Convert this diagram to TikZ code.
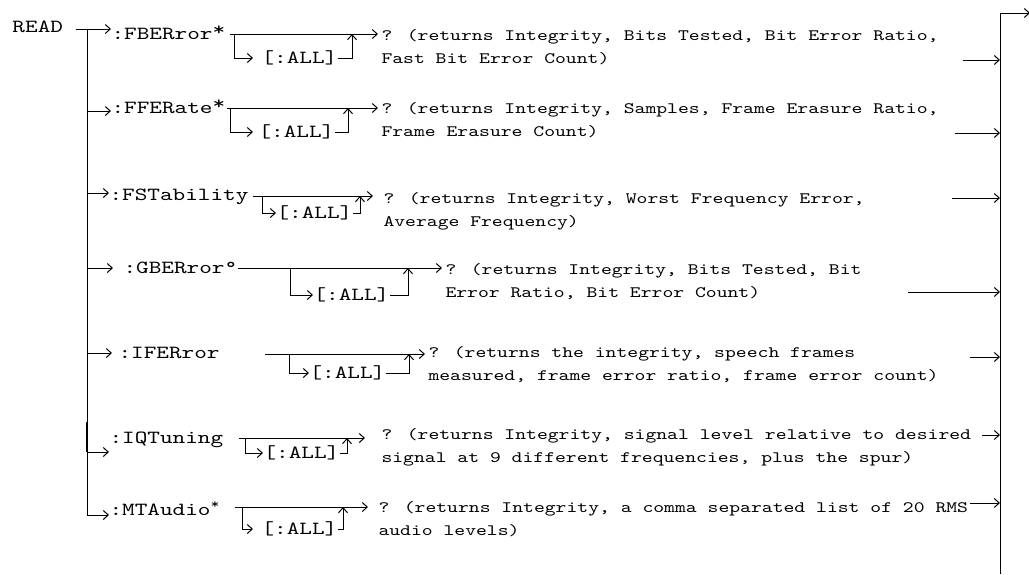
\documentclass[tikz,border=0pt]{standalone}
\usepackage{fontspec}
\newfontfamily\courfont{lmmono10-regular}[Extension=.otf, FakeStretch=1.3]
\usetikzlibrary{arrows.meta}
\newcommand{\hstar}{\raisebox{3.5pt}{*}}

\begin{document}
\begin{tikzpicture}[x=1pt, y=-1pt, line width=1pt,
  cmd/.style={font=\courfont\fontsize{18.5}{22}\selectfont, inner sep=0pt, anchor=base west},
  opt/.style={font=\courfont\fontsize{18.5}{22}\selectfont, inner sep=0pt, anchor=west},
  ret/.style={font=\courfont\fontsize{15.9}{23}\selectfont, align=left, inner xsep=3pt, inner ysep=0pt, anchor=base west},
  arr/.style={-{Straight Barb[length=5pt, width=9pt]}}]

  \useasboundingbox (0,0) rectangle (1029,574);

  % Trunk and bus
  \node[cmd] (read) at (12,32) {READ};
  \coordinate (t1) at (87,29);
  \coordinate (t2) at (87,111);
  \coordinate (t3) at (87,193);
  \coordinate (t4) at (87,268);
  \coordinate (t5) at (87,353);
  \coordinate (t6) at (87,452);
  \coordinate (t7) at (87,515);
  \coordinate (bustop) at (1000,13);
  \coordinate (busbot) at (1000,574);
  \coordinate (busout) at (1030,13);
  \draw (t1) -- (t7);
  \draw[line width=2pt] (87,422) -- (t6);
  \draw[arr] (busbot) -- (bustop) -- (busout);

  % :FBERror*
  \node[cmd] (c1) at (111,39) {:FBERror\hstar};
  \node[opt] (o1) at (261,58) {[:ALL]};
  \node[ret] (r1) at (378,63) {? (returns Integrity, Bits Tested, Bit Error Ratio,\\Fast Bit Error Count)};
  \coordinate (m1) at (230,34);
  \coordinate (b1) at (234,34);
  \coordinate (u1) at (352,34);
  \coordinate (s1) at (963,60);
  \draw[arr, shorten <=12pt] (read.east |- t1) -- (t1 -| c1.west);
  \draw[arr] (m1) -- (m1 -| r1.west);
  \draw[arr, shorten >=8pt] (b1) |- (o1.west);
  \draw[arr] (o1.east) -| (u1);
  \draw[arr] (s1) -- (s1 -| bustop);

  % :FFERate*
  \node[cmd] (c2) at (111,113) {:FFERate\hstar};
  \node[opt] (o2) at (258,132) {[:ALL]};
  \node[ret] (r2) at (378,136) {? (returns Integrity, Samples, Frame Erasure Ratio,\\Frame Erasure Count)};
  \coordinate (m2) at (227,108);
  \coordinate (b2) at (230,108);
  \coordinate (u2) at (348,108);
  \coordinate (s2) at (955,133);
  \draw[arr] (t2) -- (t2 -| c2.west);
  \draw[arr] (m2) -- (m2 -| r2.west);
  \draw[arr, shorten >=5pt] (b2) |- (o2.west);
  \draw[arr] (o2.east) -| (u2);
  \draw[arr] (s2) -- (s2 -| bustop);

  % :FSTability
  \node[cmd] (c3) at (109,200) {:FSTability};
  \node[opt] (o3) at (276,213) {[:ALL]};
  \node[ret] (r3) at (380,226) {? (returns Integrity, Worst Frequency Error,\\Average Frequency)};
  \coordinate (m3) at (253,196);
  \coordinate (b3) at (262,196);
  \coordinate (u3) at (360,196);
  \coordinate (s3) at (952,198);
  \draw[arr] (t3) -- (t3 -| c3.west);
  \draw[arr, shorten >=7pt] (m3) -- (m3 -| r3.west);
  \draw[arr] (b3) |- (o3.west);
  \draw[arr] (o3.east) -| (u3);
  \draw[arr] (s3) -- (s3 -| bustop);

  % :GBERror
  \node[cmd] (c4) at (123,273) {:GBERror°};
  \node[opt] (o4) at (313,295) {[:ALL]};
  \node[ret] (r4) at (442,297) {? (returns Integrity, Bits Tested, Bit\\Error Ratio, Bit Error Count)};
  \coordinate (m4) at (238,268);
  \coordinate (b4) at (290,268);
  \coordinate (u4) at (408,268);
  \coordinate (s4) at (908,292);
  \draw[arr, shorten >=10pt] (t4) -- (t4 -| c4.west);
  \draw[arr] (m4) -- (m4 -| r4.west);
  \draw[arr] (b4) |- (o4.west);
  \draw[arr] (o4.east) -| (u4);
  \draw[arr] (s4) -- (s4 -| bustop);

  % :IFERror
  \node[cmd] (c5) at (118,358) {:IFERror};
  \node[opt] (o5) at (309,373) {[:ALL]};
  \node[ret] (r5) at (425,380) {? (returns the integrity, speech frames\\measured, frame error ratio, frame error count)};
  \coordinate (m5) at (265,354);
  \coordinate (b5) at (289,354);
  \coordinate (u5) at (409,354);
  \coordinate (s5) at (970,357);
  \draw[arr, shorten >=6pt] (t5) -- (t5 -| c5.west);
  \draw[arr] (m5) -- (m5 -| r5.west);
  \draw[arr] (b5) |- (o5.west);
  \draw[arr] (o5.east) -| (u5);
  \draw[arr] (s5) -- (s5 -| bustop);

  % :IQTuning
  \node[cmd] (c6) at (109,443) {:IQTuning};
  \node[opt] (o6) at (263,453) {[:ALL]};
  \node[ret] (r6) at (378,462) {? (returns Integrity, signal level relative to desired\\signal at 9 different frequencies, plus the spur)};
  \coordinate (m6) at (239,438);
  \coordinate (b6) at (245,438);
  \coordinate (u6) at (347,438);
  \coordinate (s6) at (982,435);
  \draw[arr] (t6) -- (t6 -| c6.west);
  \draw[arr, shorten >=13pt] (m6) -- (m6 -| r6.west);
  \draw[arr] (b6) |- (o6.west);
  \draw[arr] (o6.east) -| (u6);
  \draw[arr] (s6) -- (s6 -| bustop);

  % :MTAudio*
  \node[cmd] (c7) at (109,515) {:MTAudio\textsuperscript{*}};
  \node[opt] (o7) at (261,529) {[:ALL]};
  \node[ret] (r7) at (375,535) {? (returns Integrity, a comma separated list of 20 RMS\\audio levels)};
  \coordinate (m7) at (235,507);
  \coordinate (b7) at (242,507);
  \coordinate (u7) at (343,507);
  \coordinate (s7) at (970,503);
  \draw[arr] (t7) -- (t7 -| c7.west);
  \draw[arr, shorten >=7pt] (m7) -- (m7 -| r7.west);
  \draw[arr, shorten >=8pt] (b7) |- (o7.west);
  \draw[arr] (o7.east) -| (u7);
  \draw[arr] (s7) -- (s7 -| bustop);

\end{tikzpicture}
\end{document}
